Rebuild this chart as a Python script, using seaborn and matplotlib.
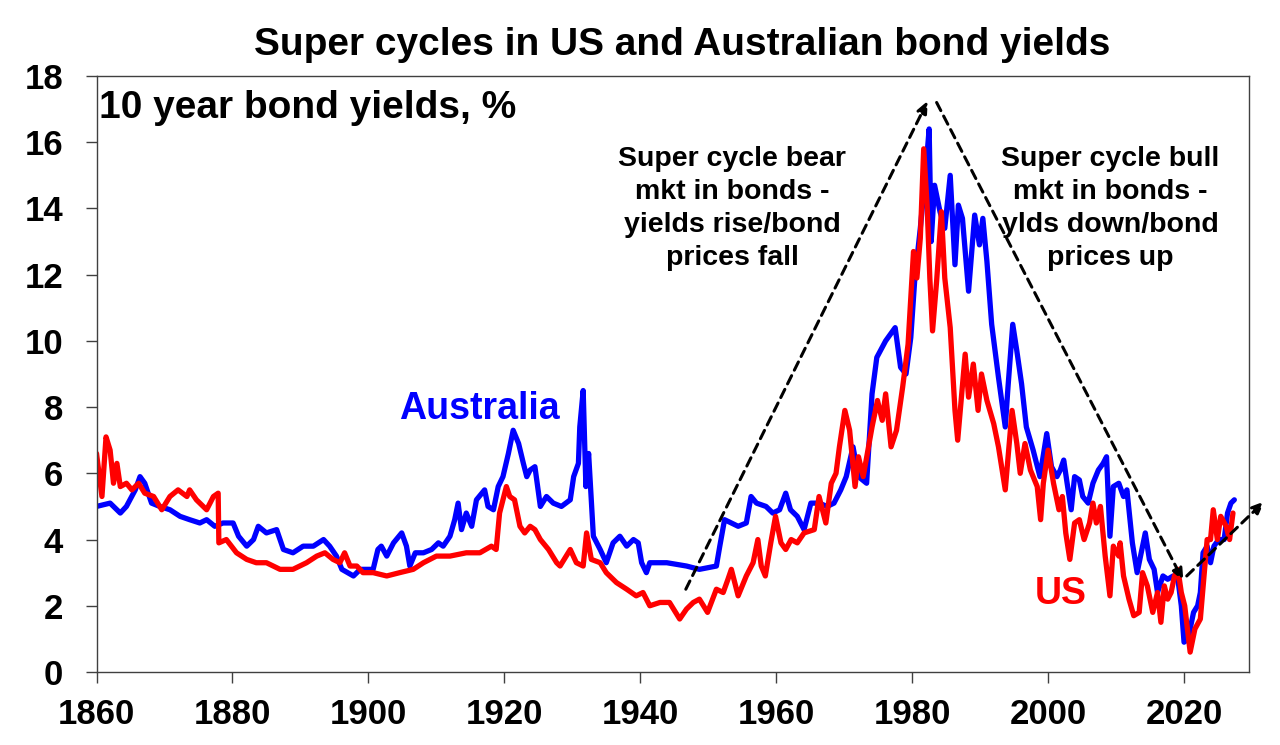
import matplotlib
matplotlib.use("Agg")
import matplotlib.pyplot as plt
import seaborn as sns
import numpy as np
import pandas as pd

# 10 year bond yields (%)
us_years = [1860.0, 1860.8, 1861.4, 1862.0, 1862.5, 1863.0, 1863.5, 1864.4, 1865.2, 1866.2,
            1867.1, 1868.4, 1869.6, 1870.8, 1872.0, 1873.3, 1873.7, 1874.7, 1876.2, 1877.2,
            1877.9, 1878.0, 1879.1, 1880.6, 1882.1, 1883.5, 1885.0, 1887.0, 1888.9, 1890.9,
            1892.4, 1893.6, 1894.8, 1895.8, 1896.5, 1897.3, 1898.3, 1899.2, 1900.7, 1902.7,
            1904.6, 1906.6, 1908.1, 1910.0, 1912.0, 1914.4, 1916.4, 1918.1, 1918.8, 1919.3,
            1920.3, 1920.8, 1921.5, 1922.3, 1923.0, 1923.8, 1924.5, 1925.3, 1926.5, 1927.7,
            1928.2, 1929.7, 1930.6, 1931.6, 1932.1, 1932.8, 1934.1, 1935.0, 1936.5, 1938.0,
            1939.4, 1940.4, 1941.4, 1942.9, 1944.3, 1945.8, 1946.8, 1947.8, 1948.7, 1949.9,
            1951.2, 1952.2, 1952.9, 1953.4, 1954.4, 1955.6, 1956.6, 1957.3, 1957.8, 1958.4,
            1959.2, 1959.9, 1960.7, 1961.4, 1962.2, 1963.1, 1964.1, 1965.6, 1966.3, 1967.3,
            1968.1, 1968.8, 1969.3, 1970.1, 1970.8, 1971.6, 1972.1, 1972.8, 1974.1, 1974.9,
            1975.6, 1976.1, 1976.9, 1977.7, 1978.6, 1979.4, 1980.2, 1980.7, 1981.2, 1981.7,
            1982.2, 1982.6, 1983.0, 1983.6, 1984.3, 1984.8, 1985.6, 1986.3, 1986.7, 1987.3,
            1987.8, 1988.3, 1989.0, 1989.7, 1990.2, 1991.0, 1992.0, 1992.7, 1993.7, 1994.7,
            1995.4, 1995.9, 1996.6, 1997.4, 1998.4, 1998.9, 1999.3, 2000.0, 2000.8, 2001.6,
            2002.1, 2002.6, 2003.2, 2003.9, 2004.6, 2005.3, 2006.1, 2006.6, 2007.1, 2007.7,
            2008.4, 2009.1, 2009.6, 2010.4, 2010.6, 2011.1, 2011.9, 2012.6, 2013.4, 2013.9,
            2014.6, 2015.4, 2016.1, 2016.6, 2017.1, 2017.6, 2018.1, 2018.6, 2019.1, 2019.6,
            2020.1, 2020.9, 2021.6, 2022.4, 2022.9, 2023.4, 2023.9, 2024.3, 2024.9, 2025.4,
            2026.2, 2026.7, 2027.2]
us_yield = [6.6, 5.3, 7.1, 6.7, 5.7, 6.3, 5.6, 5.7, 5.5, 5.7,
            5.4, 5.3, 4.9, 5.3, 5.5, 5.3, 5.5, 5.2, 4.9, 5.3,
            5.4, 3.9, 4.0, 3.6, 3.4, 3.3, 3.3, 3.1, 3.1, 3.3,
            3.5, 3.6, 3.4, 3.3, 3.6, 3.2, 3.2, 3.0, 3.0, 2.9,
            3.0, 3.1, 3.3, 3.5, 3.5, 3.6, 3.6, 3.8, 3.7, 4.8,
            5.6, 5.3, 5.2, 4.4, 4.2, 4.4, 4.3, 4.0, 3.7, 3.3,
            3.2, 3.7, 3.3, 3.2, 4.2, 3.4, 3.3, 3.0, 2.7, 2.5,
            2.3, 2.4, 2.0, 2.1, 2.1, 1.6, 1.9, 2.1, 2.2, 1.8,
            2.5, 2.4, 2.8, 3.1, 2.3, 2.9, 3.3, 4.0, 3.2, 2.9,
            3.9, 4.7, 3.9, 3.7, 4.0, 3.9, 4.2, 4.3, 5.3, 4.5,
            5.7, 6.0, 6.8, 7.9, 7.3, 5.6, 6.5, 5.9, 7.4, 8.2,
            7.6, 8.4, 6.8, 7.3, 8.6, 9.9, 12.7, 11.9, 13.1, 15.8,
            14.1, 11.9, 10.3, 11.8, 13.9, 11.9, 10.4, 7.9, 7.0, 8.4,
            9.6, 8.3, 9.3, 7.9, 9.0, 8.2, 7.5, 6.8, 5.5, 7.9,
            6.9, 6.0, 6.9, 6.1, 5.6, 4.6, 5.7, 6.7, 5.7, 4.9,
            5.3, 4.2, 3.4, 4.5, 4.6, 4.0, 4.5, 5.1, 4.5, 5.0,
            3.5, 2.3, 3.8, 3.5, 3.9, 2.9, 2.2, 1.7, 1.8, 3.0,
            2.6, 1.8, 2.4, 1.5, 2.6, 2.2, 2.4, 2.9, 3.1, 2.4,
            2.0, 0.6, 1.3, 1.6, 2.8, 4.0, 4.0, 4.9, 4.0, 4.7,
            4.4, 4.0, 4.8]

aus_years = [1860.0, 1862.0, 1863.5, 1864.4, 1865.7, 1866.4, 1867.1, 1868.1, 1869.3, 1870.8,
             1872.3, 1873.7, 1875.2, 1876.2, 1877.4, 1878.6, 1880.1, 1880.9, 1882.1, 1883.1,
             1883.8, 1885.0, 1886.5, 1887.5, 1888.9, 1890.4, 1891.9, 1893.4, 1894.3, 1895.3,
             1896.1, 1897.8, 1898.8, 1900.2, 1900.7, 1901.4, 1901.9, 1902.7, 1903.7, 1904.9,
             1905.6, 1906.1, 1906.9, 1908.1, 1909.3, 1910.3, 1911.0, 1912.0, 1912.7, 1913.2,
             1913.7, 1914.4, 1915.2, 1915.9, 1917.1, 1917.6, 1918.4, 1919.1, 1919.8, 1920.6,
             1921.3, 1922.1, 1922.8, 1923.3, 1923.8, 1924.5, 1925.3, 1926.2, 1927.2, 1928.4,
             1929.7, 1930.2, 1930.9, 1931.1, 1931.6, 1932.0, 1932.4, 1933.1, 1934.1, 1935.0,
             1936.0, 1937.0, 1938.0, 1939.0, 1939.7, 1940.2, 1940.9, 1941.4, 1943.9, 1946.8,
             1948.7, 1951.2, 1951.7, 1952.4, 1953.4, 1954.4, 1955.6, 1956.3, 1957.1, 1958.5,
             1959.5, 1960.5, 1961.4, 1962.1, 1963.1, 1964.1, 1965.1, 1966.3, 1967.5, 1968.5,
             1969.5, 1970.3, 1971.3, 1972.1, 1973.3, 1974.1, 1974.8, 1976.1, 1977.5, 1978.3,
             1979.1, 1979.8, 1980.4, 1981.2, 1981.9, 1982.5, 1982.8, 1983.3, 1984.1, 1984.8,
             1985.6, 1986.3, 1986.8, 1987.4, 1988.3, 1989.2, 1989.9, 1990.4, 1991.0, 1991.7,
             1992.7, 1993.7, 1994.1, 1994.8, 1995.4, 1996.1, 1996.8, 1997.8, 1998.8, 1999.8,
             2000.5, 2001.3, 2001.8, 2002.3, 2002.8, 2003.4, 2003.9, 2004.6, 2005.1, 2005.9,
             2006.6, 2007.4, 2008.1, 2008.6, 2009.1, 2009.6, 2010.4, 2011.1, 2011.6, 2012.4,
             2013.1, 2013.6, 2014.3, 2014.9, 2015.6, 2016.1, 2016.9, 2017.6, 2018.4, 2019.1,
             2019.6, 2020.0, 2020.6, 2021.4, 2022.0, 2022.4, 2022.8, 2023.4, 2023.9, 2024.4,
             2025.1, 2025.9, 2026.4, 2026.9, 2027.4]
aus_yield = [5.0, 5.1, 4.8, 5.0, 5.5, 5.9, 5.7, 5.1, 5.0, 4.9,
             4.7, 4.6, 4.5, 4.6, 4.4, 4.5, 4.5, 4.1, 3.8, 4.0,
             4.4, 4.2, 4.3, 3.7, 3.6, 3.8, 3.8, 4.0, 3.8, 3.5,
             3.1, 2.9, 3.1, 3.1, 3.1, 3.7, 3.8, 3.5, 3.9, 4.2,
             3.8, 3.2, 3.6, 3.6, 3.7, 3.9, 3.8, 4.1, 4.6, 5.1,
             4.3, 4.8, 4.4, 5.2, 5.5, 5.0, 4.9, 5.6, 5.9, 6.6,
             7.3, 6.9, 6.3, 5.9, 6.1, 6.2, 5.0, 5.3, 5.1, 5.0,
             5.2, 5.9, 6.3, 7.4, 8.5, 5.6, 6.6, 4.1, 3.7, 3.3,
             3.9, 4.1, 3.8, 4.0, 3.9, 3.3, 3.0, 3.3, 3.3, 3.2,
             3.1, 3.2, 3.8, 4.6, 4.5, 4.4, 4.5, 5.3, 5.1, 5.0,
             4.8, 4.9, 5.4, 4.9, 4.7, 4.3, 5.1, 5.1, 5.0, 5.1,
             5.5, 5.9, 6.8, 5.9, 5.7, 8.4, 9.5, 10.0, 10.4, 9.2,
             9.0, 10.1, 11.9, 13.4, 14.9, 16.4, 13.0, 14.7, 13.9, 13.4,
             15.0, 12.3, 14.1, 13.7, 11.5, 13.8, 12.9, 13.7, 12.4, 10.5,
             8.9, 7.4, 8.6, 10.5, 9.7, 8.7, 7.4, 6.7, 5.9, 7.2,
             6.2, 5.9, 6.1, 6.4, 5.7, 4.9, 5.9, 5.8, 5.3, 5.1,
             5.7, 6.1, 6.3, 6.5, 4.1, 5.6, 5.7, 5.3, 5.5, 3.9,
             3.0, 3.5, 4.2, 3.4, 3.1, 2.4, 2.9, 2.8, 2.9, 2.8,
             2.0, 0.9, 1.0, 1.8, 2.0, 2.4, 3.6, 3.8, 3.3, 3.8,
             4.0, 4.0, 4.8, 5.1, 5.2]

# dashed trend arrows: (start year, start yield, end year, end yield)
arrow_bear = (1946.7, 2.5, 1982.3, 17.25)
arrow_bull = (1983.6, 17.2, 2019.9, 2.75)
arrow_new = (2020.4, 2.9, 2031.8, 5.15)

us = pd.DataFrame({"year": us_years, "yield": us_yield})
aus = pd.DataFrame({"year": aus_years, "yield": aus_yield})

sns.set_style("white")
plt.rcParams["font.family"] = ["Liberation Sans", "DejaVu Sans"]
plt.rcParams["font.weight"] = "bold"
plt.rcParams["text.color"] = "black"
plt.rcParams["xtick.labelcolor"] = "black"
plt.rcParams["ytick.labelcolor"] = "black"

fig = plt.figure(figsize=(12.8, 7.45), dpi=100)
ax = fig.add_axes([0.0754, 0.098, 0.9006, 0.800])

sns.lineplot(data=aus, x="year", y="yield", color="#0000FF", linewidth=3.8,
             estimator=None, sort=False, ax=ax)
sns.lineplot(data=us, x="year", y="yield", color="#FF0000", linewidth=3.8,
             estimator=None, sort=False, ax=ax)

ax.set_xlim(1860, 2029.6)
ax.set_ylim(0, 18)
ax.set_xticks(np.arange(1860, 2021, 20))
ax.set_yticks(np.arange(0, 19, 2))
ax.set_xlabel("")
ax.set_ylabel("")
ax.tick_params(axis="x", direction="out", length=8, width=1, color="#404040",
               labelcolor="black", labelsize=25, pad=11, bottom=True)
ax.tick_params(axis="y", direction="out", length=8, width=1, color="#404040",
               labelcolor="black", labelsize=25, pad=16, left=True)
for lab in ax.get_xticklabels() + ax.get_yticklabels():
    lab.set_fontweight("bold")
for sp in ax.spines.values():
    sp.set_visible(True)
    sp.set_color("#404040")
    sp.set_linewidth(1.0)

# arrows
for x0, y0, x1, y1 in [arrow_bear, arrow_bull, arrow_new]:
    ax.annotate("", xy=(x1, y1), xytext=(x0, y0), annotation_clip=False,
                arrowprops=dict(arrowstyle="-|>,head_length=0.7,head_width=0.3",
                                linestyle=(0, (3, 2)), lw=2.2, color="black",
                                shrinkA=0, shrinkB=0))

# texts
fig.text(0.533, 0.94, "Super cycles in US and Australian bond yields",
         ha="center", va="center", fontsize=28, fontweight="bold", color="black")
ax.text(0.002, 0.946, "10 year bond yields, %", transform=ax.transAxes,
        ha="left", va="center", fontsize=28, fontweight="bold", color="black")
ax.text(1953.5, 14.0, "Super cycle bear\nmkt in bonds -\nyields rise/bond\nprices fall",
        ha="center", va="center", fontsize=20.5, fontweight="bold", color="black",
        linespacing=1.35)
ax.text(2009.1, 14.0, "Super cycle bull\nmkt in bonds -\nylds down/bond\nprices up",
        ha="center", va="center", fontsize=20.5, fontweight="bold", color="black",
        linespacing=1.35)
ax.text(1916.4, 7.95, "Australia", color="#0000FF", ha="center", va="center",
        fontsize=27, fontweight="bold")
ax.text(2001.9, 2.35, "US", color="#FF0000", ha="center", va="center",
        fontsize=27, fontweight="bold")

fig.savefig("out.png", dpi=100)
